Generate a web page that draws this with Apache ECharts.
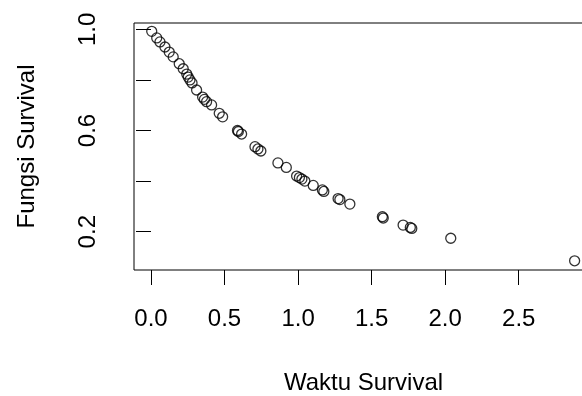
<!DOCTYPE html>
<html>
<head>
<meta charset="utf-8">
<script src="https://cdn.jsdelivr.net/npm/echarts@6/dist/echarts.min.js"></script>
<style>
  html, body { margin: 0; padding: 0; background: #fff; }
  #survival_chart { width: 582px; height: 396px; }
</style>
</head>
<body>
<div id="survival_chart"></div>
<script>
// waktu survival (x) dan fungsi survival (y)
const waktu = [0.005, 0.039, 0.061, 0.095, 0.124, 0.151, 0.192, 0.219, 0.243, 0.253,
  0.265, 0.279, 0.310, 0.351, 0.363, 0.378, 0.412, 0.464, 0.487, 0.588,
  0.594, 0.616, 0.707, 0.727, 0.747, 0.863, 0.920, 0.990, 1.009, 1.026,
  1.046, 1.103, 1.165, 1.175, 1.272, 1.284, 1.352, 1.573, 1.579, 1.714,
  1.763, 1.773, 2.038, 2.880];
const fungsi = [0.992, 0.966, 0.950, 0.930, 0.910, 0.891, 0.864, 0.844, 0.823, 0.811,
  0.800, 0.788, 0.760, 0.732, 0.723, 0.714, 0.701, 0.668, 0.654, 0.600,
  0.596, 0.586, 0.536, 0.527, 0.519, 0.472, 0.454, 0.420, 0.414, 0.408,
  0.400, 0.383, 0.365, 0.359, 0.331, 0.327, 0.309, 0.259, 0.254, 0.226,
  0.217, 0.213, 0.174, 0.085];

const xTicks = [0, 0.5, 1.0, 1.5, 2.0, 2.5];
const yTicks = [0.2, 0.4, 0.6, 0.8, 1.0];
const yLabels = [0.2, 0.6, 1.0];

const chart = echarts.init(document.getElementById('survival_chart'));
const font = "'Liberation Sans', Arial, sans-serif";

const option = {
  backgroundColor: '#fff',
  animation: false,
  grid: {
    left: 134,
    top: 23,
    width: 459,
    height: 247,
    containLabel: false,
    outerBoundsMode: 'none',
    show: true,
    borderColor: '#000',
    borderWidth: 1
  },
  xAxis: {
    type: 'value',
    min: -0.1155,
    max: 3.005,
    name: 'Waktu Survival',
    nameLocation: 'middle',
    nameGap: 101,
    nameTextStyle: { color: '#000', fontSize: 24, fontFamily: font },
    axisLine: { show: false },
    axisTick: {
      show: true,
      length: 15,
      customValues: xTicks,
      lineStyle: { color: '#000', width: 1 }
    },
    axisLabel: {
      customValues: xTicks,
      margin: 37,
      color: '#000',
      fontSize: 24,
      fontFamily: font,
      formatter: v => v.toFixed(1)
    },
    splitLine: { show: false }
  },
  yAxis: {
    type: 'value',
    min: 0.0486,
    max: 1.0249,
    name: 'Fungsi Survival',
    nameLocation: 'middle',
    nameGap: 95,
    nameRotate: 90,
    nameTextStyle: { color: '#000', fontSize: 24, fontFamily: font },
    axisLine: { show: false },
    axisTick: {
      show: true,
      length: 15,
      customValues: yTicks,
      lineStyle: { color: '#000', width: 1 }
    },
    axisLabel: {
      customValues: yLabels,
      rotate: 90,
      margin: 34,
      color: '#000',
      fontSize: 24,
      fontFamily: font,
      formatter: v => v.toFixed(1)
    },
    splitLine: { show: false }
  },
  series: [
    {
      type: 'scatter',
      symbol: 'circle',
      symbolSize: 10,
      data: waktu.map((x, i) => [x, fungsi[i]]),
      itemStyle: {
        color: 'rgba(0,0,0,0)',
        borderColor: '#000',
        borderWidth: 1.3
      }
    }
  ]
};

chart.setOption(option);
</script>
</body>
</html>
